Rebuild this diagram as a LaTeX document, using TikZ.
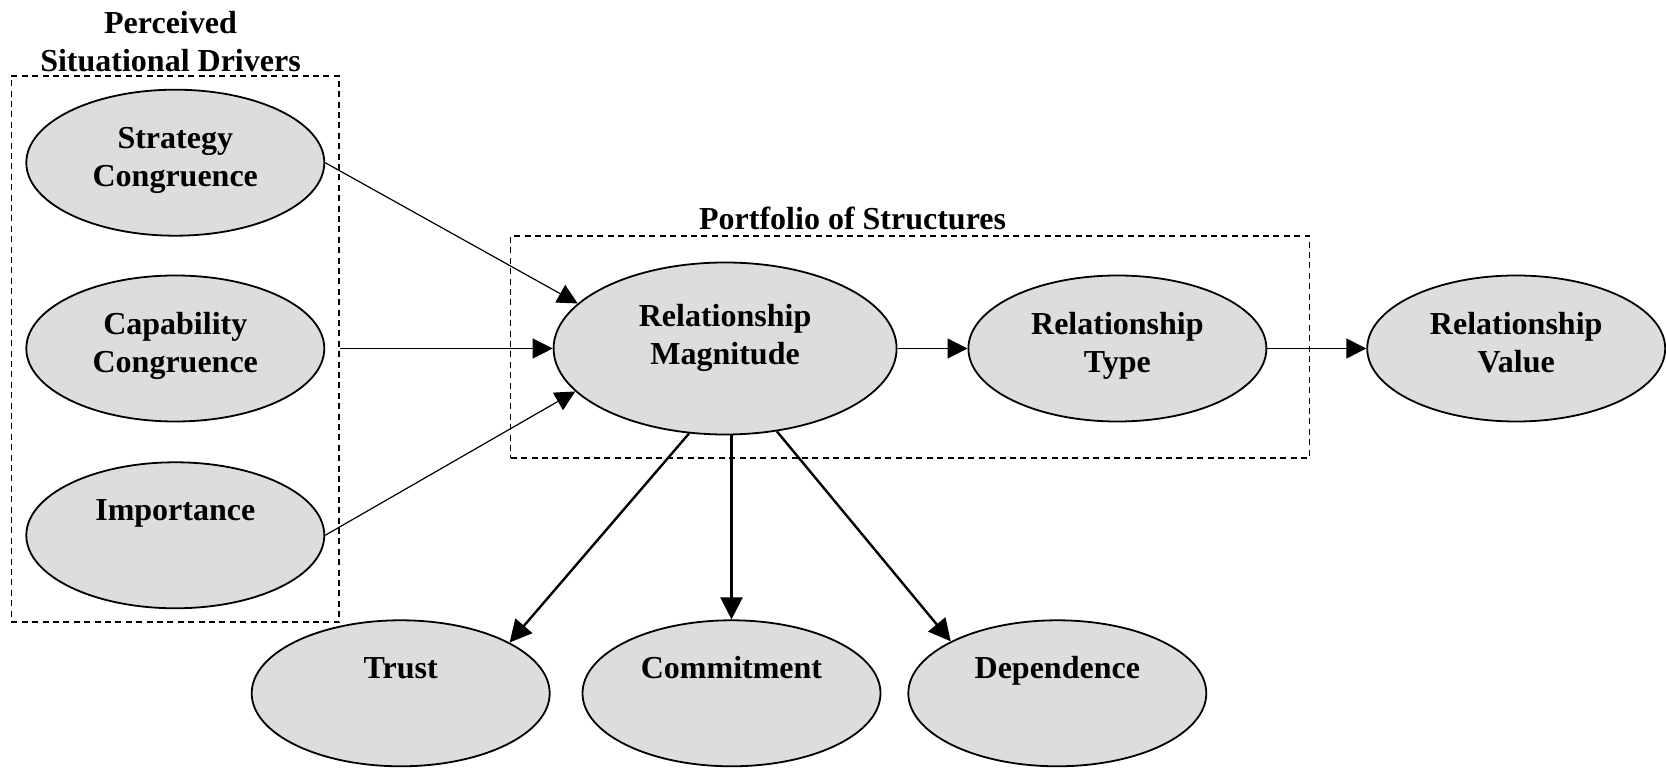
\documentclass[tikz,border=0pt]{standalone}
\usepackage{fontspec}
\setmainfont{Liberation Serif}
\usepackage{tikz}
\usetikzlibrary{arrows.meta,positioning,fit,shapes.geometric}
\definecolor{Shade}{HTML}{DDDDDD}

\begin{document}
\begin{tikzpicture}[x=0.5pt,y=0.5pt,
  every node/.style={font=\bfseries\fontsize{16}{19}\selectfont,align=center,inner sep=0pt},
  construct/.style={ellipse,draw=black,line width=0.9pt,fill=Shade,minimum width=149pt,minimum height=73pt,
    text width=100pt,text height=11pt,text depth=25.4pt},
  bigconstruct/.style={construct,minimum width=171.5pt,minimum height=86pt,text depth=33.4pt},
  groupbox/.style={draw,dash pattern=on 3pt off 2.2pt,line width=0.75pt},
  arr/.style={-{Triangle[length=10pt,width=10pt]},line width=0.6pt},
  thickarr/.style={-{Triangle[length=11pt,width=11pt]},line width=1.2pt}
]
\useasboundingbox (0,0) rectangle (1666,-769);
% drivers
\node[construct] (cap) at (175.3,-348.5) {Capability\\Congruence};
\node[construct,above=19pt of cap] (strat) {Strategy\\Congruence};
\node[construct,below=19.5pt of cap] (imp) {Importance};
\node[groupbox,fit=(strat)(cap)(imp),inner xsep=7pt,inner ysep=6.5pt] (drivers) {};
\node[above=1.3pt of drivers,xshift=-2.4pt] (driverslbl) {Perceived\\Situational Drivers};
% structures
\node[bigconstruct,right=113.75pt of cap] (rm) {Relationship\\Magnitude};
\node[construct,right=35pt of rm] (rt) {Relationship\\Type};
\node[construct,right=49.5pt of rt] (rv) {Relationship\\Value};
\node[groupbox,fit=(rm)(rt),inner xsep=21pt,inner ysep=12pt,yshift=0.75pt] (portfolio) {};
\node[above=2.3pt of portfolio,xshift=-28.7pt] (portfoliolbl) {Portfolio of Structures};
% outcomes
\node[construct,below=92pt of rm,xshift=3.2pt] (com) {Commitment};
\node[construct,left=15.5pt of com] (trust) {Trust};
\node[construct,right=13pt of com] (dep) {Dependence};
\draw[arr] (strat.east) -- (rm.163);
\draw[arr] (drivers.east |- cap.east) -- (rm.west);
\draw[arr] (imp.east) -- (rm.196);
\draw[arr] (rm.east) -- (rt.west);
\draw[arr] (rt.east) -- (rv.west);
\draw[thickarr] (rm.247) -- (trust.25);
\draw[thickarr] (rm.south -| com.north) -- (com.north);
\draw[thickarr] (rm.302) -- (dep.154);
\end{tikzpicture}
\end{document}
